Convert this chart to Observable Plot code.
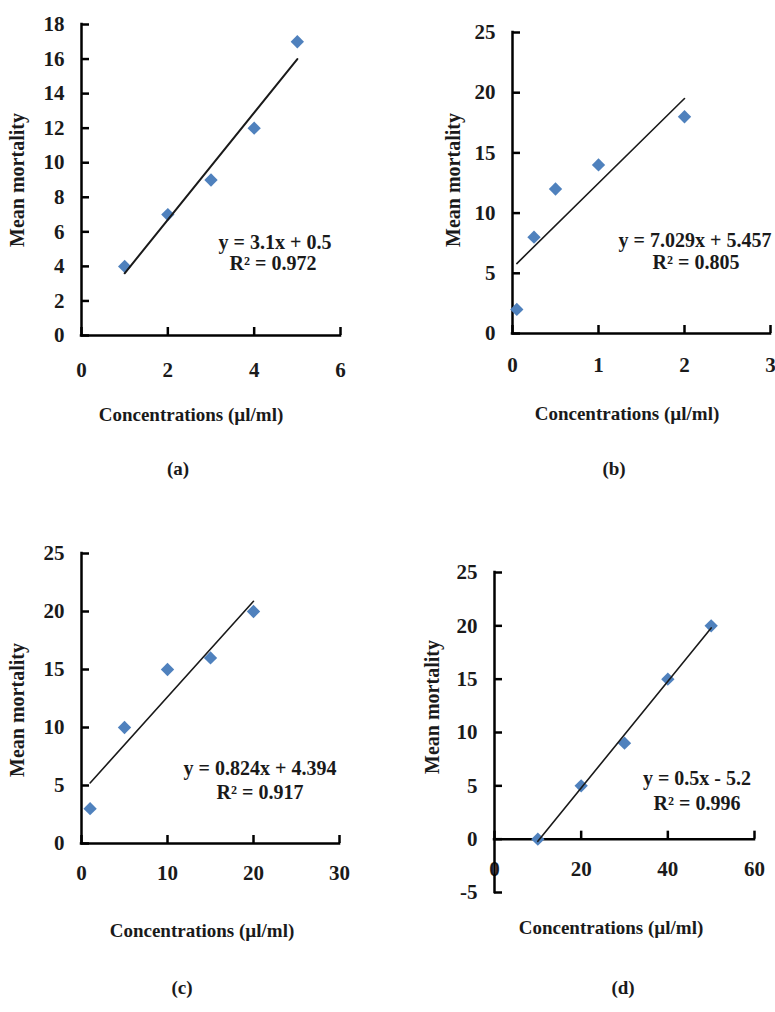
<!DOCTYPE html>
<html>
<head>
<meta charset="utf-8">
<script src="https://cdn.jsdelivr.net/npm/d3@7"></script>
<script src="https://cdn.jsdelivr.net/npm/@observablehq/plot@0.6"></script>
<style>
  body { margin: 0; background: #fff; }
  #page { position: relative; width: 775px; height: 1012px; overflow: hidden;
          font-family: "Liberation Serif", "Times New Roman", serif; font-weight: bold; color: #1a1a1a; }
  .panel { position: absolute; }
  .lbl { position: absolute; white-space: nowrap; line-height: 1; transform: translate(-50%, -50%); }
  .ylbl { transform: translate(-50%, -50%) rotate(-90deg); }
</style>
</head>
<body>
<div id="page"></div>
<script>
// ---------- data ----------
const xTitle = "Concentrations (µl/ml)";
const yTitle = "Mean mortality";
const captions = ["(a)", "(b)", "(c)", "(d)"];

const concA = [1, 2, 3, 4, 5];
const mortA = [4, 7, 9, 12, 17];
const concB = [0.05, 0.25, 0.5, 1, 2];
const mortB = [2, 8, 12, 14, 18];
const concC = [1, 5, 10, 15, 20];
const mortC = [3, 10, 15, 16, 20];
const concD = [10, 20, 30, 40, 50];
const mortD = [0, 5, 9, 15, 20];

const xTicksA = [0, 2, 4, 6];
const yTicksA = [0, 2, 4, 6, 8, 10, 12, 14, 16, 18];
const xTicksB = [0, 1, 2, 3];
const yTicksB = [0, 5, 10, 15, 20, 25];
const xTicksC = [0, 10, 20, 30];
const yTicksC = [0, 5, 10, 15, 20, 25];
const xTicksD = [0, 20, 40, 60];
const yTicksD = [-5, 0, 5, 10, 15, 20, 25];

const eqA = ["y = 3.1x + 0.5", "R² = 0.972"];
const eqB = ["y = 7.029x + 5.457", "R² = 0.805"];
const eqC = ["y = 0.824x + 4.394", "R² = 0.917"];
const eqD = ["y = 0.5x - 5.2", "R² = 0.996"];

// ---------- layout ----------
const panels = [
  { conc: concA, mort: mortA, xTicks: xTicksA, yTicks: yTicksA, eq: eqA, cap: captions[0],
    xDomain: [0, 6], yDomain: [0, 18], xAxisAt: 0,
    left: 0, top: 0, w: 387, h: 500, mL: 81, mR: 47, mT: 24, mB: 165, xLabelDy: 35, lineW: 2,
    xt: [191, 414], yt: [17, 180], e1: [275, 242], e2: [273, 263], cp: [178, 468] },
  { conc: concB, mort: mortB, xTicks: xTicksB, yTicks: yTicksB, eq: eqB, cap: captions[1],
    xDomain: [0, 3], yDomain: [0, 25], xAxisAt: 0,
    left: 390, top: 0, w: 385, h: 500, mL: 122, mR: 5, mT: 32, mB: 167, xLabelDy: 32, lineW: 1.6,
    xt: [627, 413], yt: [453, 180], e1: [695, 240], e2: [696, 262], cp: [614, 468] },
  { conc: concC, mort: mortC, xTicks: xTicksC, yTicks: yTicksC, eq: eqC, cap: captions[2],
    xDomain: [0, 30], yDomain: [0, 25], xAxisAt: 0,
    left: 0, top: 500, w: 387, h: 512, mL: 81, mR: 48, mT: 53, mB: 169, xLabelDy: 30, lineW: 1.6,
    xt: [202, 930], yt: [17, 710], e1: [260, 768], e2: [260, 792], cp: [182, 987] },
  { conc: concD, mort: mortD, xTicks: xTicksD, yTicks: yTicksD, eq: eqD, cap: captions[3],
    xDomain: [0, 60], yDomain: [-5, 25], xAxisAt: 0,
    left: 390, top: 500, w: 385, h: 512, mL: 104, mR: 21, mT: 72, mB: 120, xLabelDy: 30, lineW: 1.6,
    xt: [611, 927], yt: [432, 707], e1: [697, 778], e2: [697, 803], cp: [623, 987] }
];

const page = document.getElementById("page");
const font = { fontFamily: '"Liberation Serif", "Times New Roman", serif', fontWeight: "bold", fill: "#1a1a1a" };
const axisStyle = { stroke: "#000", strokeWidth: 2.5, strokeLinecap: "square" };
const tickStyle = { stroke: "#000", strokeWidth: 2.5 };

function addLabel(text, [x, y], size, cls = "") {
  const d = document.createElement("div");
  d.className = "lbl " + cls;
  d.style.left = x + "px";
  d.style.top = y + "px";
  d.style.fontSize = size + "px";
  d.textContent = text;
  page.appendChild(d);
}

for (const p of panels) {
  const data = p.conc.map((c, i) => ({ conc: c, mort: p.mort[i] }));
  const [x0, x1] = p.xDomain;
  const [y0, y1] = p.yDomain;
  const chart = Plot.plot({
    width: p.w, height: p.h,
    marginLeft: p.mL, marginRight: p.mR, marginTop: p.mT, marginBottom: p.mB,
    x: { domain: p.xDomain, axis: null },
    y: { domain: p.yDomain, axis: null },
    style: { background: "transparent", overflow: "visible" },
    marks: [
      Plot.text(p.xTicks, { x: d => d, y: p.xAxisAt, dy: p.xLabelDy, text: d => String(d), fontSize: 21, ...font }),
      Plot.text(p.yTicks, { x: x0, y: d => d, dx: -17, textAnchor: "end", text: d => String(d), fontSize: 21, ...font }),
      Plot.ruleX([x0], { y1: y0, y2: y1, ...axisStyle }),
      Plot.ruleY([p.xAxisAt], { x1: x0, x2: x1, ...axisStyle }),
      Plot.ruleX(p.xTicks, { x: d => d, y1: p.xAxisAt, y2: p.xAxisAt, insetBottom: 8, ...tickStyle }),
      Plot.ruleY(p.yTicks, { y: d => d, x1: x0, x2: x0, insetRight: -8, ...tickStyle }),
      Plot.dot(data, { x: "conc", y: "mort", symbol: "diamond2", r: 6, fill: "#4F81BD" }),
      Plot.linearRegressionY(data, { x: "conc", y: "mort", ci: 0, stroke: "#1a1a1a", strokeWidth: p.lineW })
    ]
  });
  const wrap = document.createElement("div");
  wrap.className = "panel";
  wrap.style.left = p.left + "px";
  wrap.style.top = p.top + "px";
  wrap.appendChild(chart);
  page.appendChild(wrap);

  addLabel(xTitle, p.xt, 19);
  addLabel(yTitle, p.yt, 20, "ylbl");
  addLabel(p.eq[0], p.e1, 20);
  addLabel(p.eq[1], p.e2, 20);
  addLabel(p.cap, p.cp, 19);
}
</script>
</body>
</html>
